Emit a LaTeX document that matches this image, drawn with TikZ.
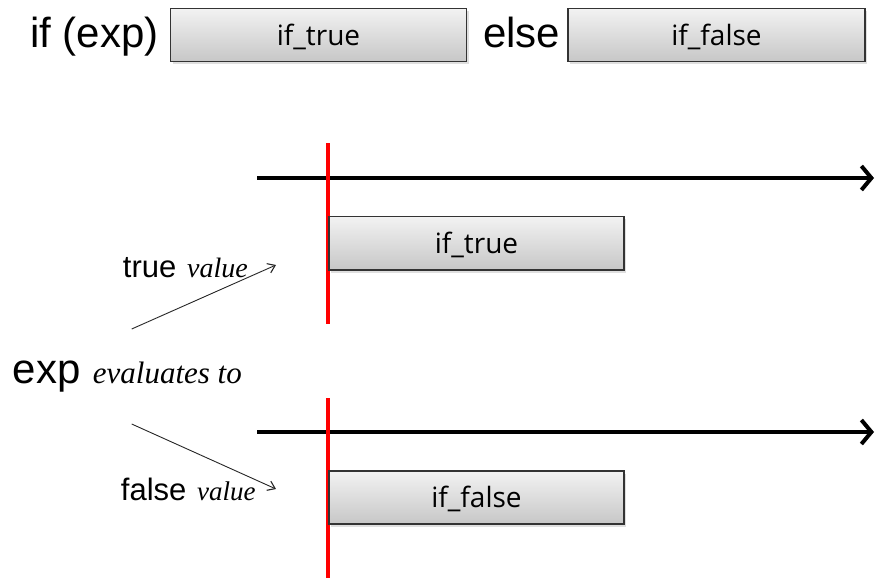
\documentclass[tikz,border=0pt]{standalone}
\usepackage{fontspec}
\setmainfont{Liberation Sans}
\newfontfamily\serifit{Liberation Serif}
\newfontfamily\boxfont{Open Sans}
\usetikzlibrary{arrows.meta,shadows}

\tikzset{
  codebox/.style={draw=black!80, line width=1.3pt, top color=black!5, bottom color=black!22,
    drop shadow={shadow xshift=2pt, shadow yshift=-2.5pt, opacity=0.25}},
  boxtext/.style={font=\boxfont\fontsize{28}{33}\selectfont, text=black},
  kw/.style={anchor=base west, inner sep=0pt, font=\fontsize{42}{50}\selectfont},
  small/.style={anchor=base west, inner sep=0pt, font=\fontsize{31}{36}\selectfont},
  note/.style={anchor=base west, inner sep=0pt},
  timeline/.style={line width=4pt, -{Straight Barb[length=10pt,width=24pt,line width=4pt]}},
  moment/.style={line width=4pt, red},
  pointer/.style={line width=0.9pt, black!85, -{Straight Barb[length=7pt,width=10pt,line width=1.1pt]}}
}

\begin{document}
\begin{tikzpicture}[x=1pt,y=-1pt]
\useasboundingbox (0,0) rectangle (876,581);

% statement line: if (exp) <if_true> else <if_false>
\node[kw] (ifkw) at (30,47) {if (exp)};
\path[codebox] (170.5,8.5) rectangle (466.5,61.5);
\node[boxtext] (toptrue) at (318.5,37) {if\_true};
\node[kw] (elsekw) at (483,47) {else};
\path[codebox] (568,8.5) rectangle (865,61.5);
\node[boxtext] (topfalse) at (716.5,37) {if\_false};

% true branch
\coordinate (t1s) at (257,178);
\coordinate (t1e) at (874,178);
\draw[timeline] (t1s) -- (t1e);
\coordinate (r1a) at (327.7,143);
\coordinate (r1b) at (327.7,324);
\draw[moment] (r1a) -- (r1b);
\path[codebox] (329,216.5) rectangle (624,270);
\node[boxtext] (midtrue) at (476.5,245) {if\_true};

% false branch
\coordinate (t2s) at (257,432);
\coordinate (t2e) at (874,432);
\draw[timeline] (t2s) -- (t2e);
\coordinate (r2a) at (327.7,398);
\coordinate (r2b) at (327.7,578);
\draw[moment] (r2a) -- (r2b);
\path[codebox] (329,471) rectangle (624,524);
\node[boxtext] (midfalse) at (476.5,499) {if\_false};

% evaluation labels
\node[kw] (expword) at (12.7,383) {exp};
\node[note, font=\serifit\itshape\fontsize{31}{36}\selectfont] (evalword) at (92.7,383) {evaluates to};

\node[small] (trueword) at (122.7,277) {true};
\node[note, font=\serifit\itshape\fontsize{28}{32}\selectfont] (trueval) at (187,277) {value};
\node[small] (falseword) at (120.7,500.7) {false};
\node[note, font=\serifit\itshape\fontsize{27}{32}\selectfont] (falseval) at (197,500.7) {value};

% pointers from the evaluation to each branch
\coordinate (p1s) at (131.7,329);
\coordinate (p1e) at (276,265);
\draw[pointer] (p1s) -- (p1e);
\coordinate (p2s) at (131.7,424);
\coordinate (p2e) at (276,489);
\draw[pointer] (p2s) -- (p2e);
\end{tikzpicture}
\end{document}
